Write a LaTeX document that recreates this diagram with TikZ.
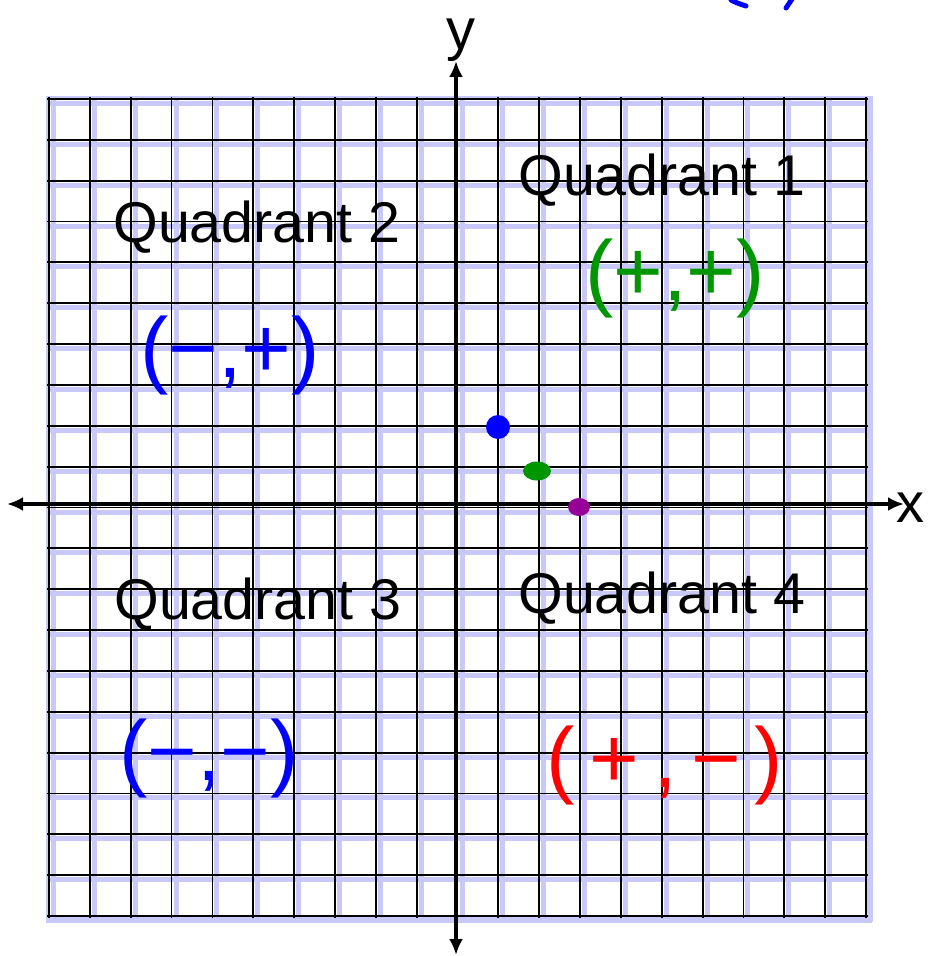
\documentclass[tikz,border=0pt]{standalone}
\usepackage{fontspec}
\setmainfont{Liberation Sans}
\usetikzlibrary{arrows.meta,shapes.geometric}
\definecolor{lavanda}{RGB}{200,200,250}
\definecolor{tintaazul}{RGB}{0,0,255}
\definecolor{tintaverde}{RGB}{0,150,0}
\definecolor{tintaroja}{RGB}{255,0,0}
\definecolor{morado}{RGB}{150,0,150}

\begin{document}
\begin{tikzpicture}[x=0.5pt, y=-0.5pt,
    malla/.style={line width=0.9pt, black},
    sombra/.style={line width=2.5pt, lavanda},
    eje/.style={line width=2.4pt, {Latex[length=8pt,width=7pt]}-{Latex[length=8pt,width=7pt]}},
    etiqueta/.style={inner sep=0pt, anchor=base west, font=\fontsize{28.7}{34}\selectfont},
    signo/.style={inner sep=0pt, anchor=base, font=\fontsize{42.5}{50}\selectfont},
    punto/.style={ellipse, inner sep=0pt},
    tinta/.style={line width=2.5pt, line cap=round, line join=round}
  ]
    \useasboundingbox (0,0) rectangle (928,956);

    % papel cuadriculado
    \fill[lavanda] (46,96) rectangle (872,922);
    \fill[white] (49,99) rectangle (866,916);
    \foreach \i in {0,...,20}{
      \draw[sombra] ({53.5+40.85*\i},96) -- ({53.5+40.85*\i},922);
      \draw[sombra] (46,{103.5+40.85*\i}) -- (872,{103.5+40.85*\i});
    }
    \foreach \i in {0,...,20}{
      \draw[malla] ({49+40.85*\i},97) -- ({49+40.85*\i},918);
      \draw[malla] (47,{99+40.85*\i}) -- (868,{99+40.85*\i});
    }

    % ejes
    \coordinate (izq) at (7,504);
    \coordinate (der) at (904,504);
    \coordinate (arriba) at (456,61);
    \coordinate (abajo) at (456,955);
    \draw[eje] (izq) -- (der);
    \draw[eje] (abajo) -- (arriba);
    \node[inner sep=0pt, anchor=base, font=\fontsize{29}{34}\selectfont] (ejey) at (461,50) {y};
    \node[inner sep=0pt, anchor=base, font=\fontsize{28}{32}\selectfont] (ejex) at (910,522) {x};

    \node[etiqueta] (cuad1) at (518,196) {Quadrant 1};
    \node[etiqueta] (cuad2) at (113,243) {Quadrant 2};
    \node[etiqueta] (cuad3) at (114,619) {Quadrant 3};
    \node[etiqueta] (cuad4) at (518,613) {Quadrant 4};

    \node[signo, text=tintaverde] (signo1) at (675,301) {(+,+)};
    \node[signo, text=tintaazul] (signo2) at (230,378) {(−,+)};
    \node[signo, text=tintaazul] (signo3) at (209,780) {(−,−)};
    \node[signo, text=tintaroja] (signo4) at (665,787) {(\,+\,,\,−\,)};

    \node[punto, fill=tintaazul, minimum width=12pt, minimum height=12pt] (pazul) at (498,427) {};
    \node[punto, fill=tintaverde, minimum width=14pt, minimum height=9.5pt] (pverde) at (537,471) {};
    \node[punto, fill=morado, minimum width=11pt, minimum height=9pt] (pmorado) at (579,507) {};

    % restos de tinta arriba
    \draw[tinta, tintaazul] (731,0) .. controls (737,3) .. (746,6);
    \draw[tinta, tintaazul] (792,-1) -- (786,8);
\end{tikzpicture}
\end{document}
